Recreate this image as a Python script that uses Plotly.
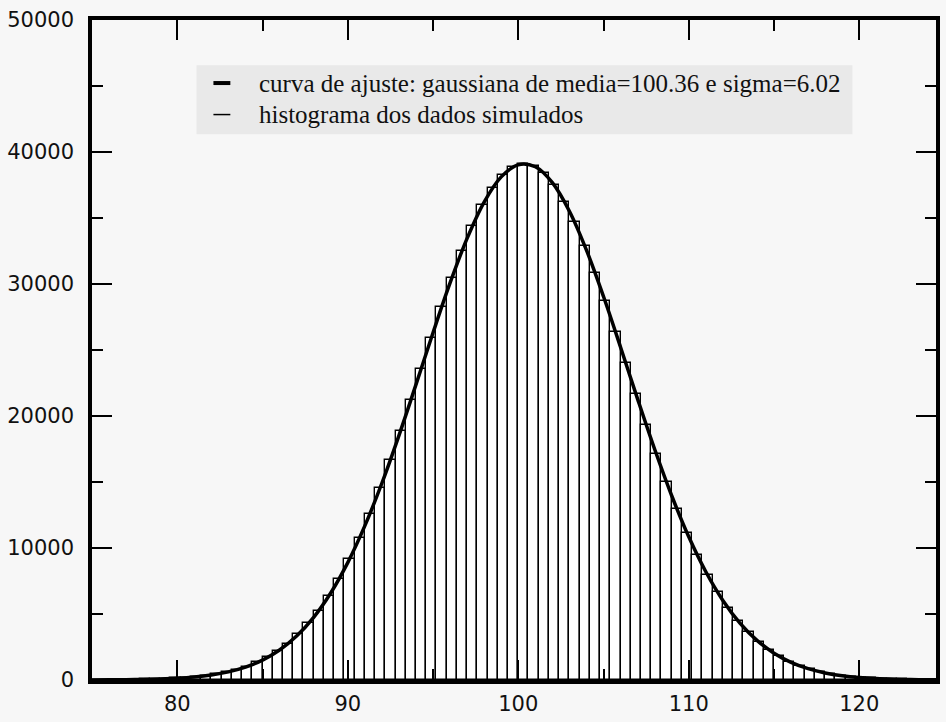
import plotly.graph_objects as go

# ---- data ----
bin_width = 0.6
first_bin_center = 75.1
hist_counts = [
    6, 9, 13, 20, 30, 40, 60, 90, 120, 170, 230, 320,
    430, 580, 780, 1020, 1330, 1710, 2180, 2760, 3460, 4290,
    5260, 6390, 7680, 9150, 10790, 12600, 14570, 16670, 18900, 21200,
    23560, 25920, 28230, 30440, 32500, 34360, 35970, 37280, 38250, 38870,
    39100, 38940, 38400, 37500, 36250, 34700, 32890, 30870, 28680, 26380,
    24030, 21670, 19350, 17110, 14980, 12980, 11140, 9470, 7970, 6630,
    5470, 4470, 3610, 2890, 2290, 1800, 1400, 1080, 820, 620,
    460, 340, 250, 180, 130, 90, 65, 45, 31, 21,
    14, 9,
]
bin_centers = [round(first_bin_center + bin_width * i, 2) for i in range(len(hist_counts))]

curve_x = list(range(75, 126))
curve_y = [
    5, 11, 21, 39, 72, 128, 222, 374, 612, 974,
    1509, 2273, 3331, 4750, 6592, 8895, 11675, 14905, 18518, 22377,
    26303, 30080, 33458, 36210, 38115, 39030, 38880, 37677, 35515, 32566,
    29051, 25212, 21282, 17478, 13959, 10846, 8199, 6029, 4313, 3003,
    2033, 1337, 856, 534, 324, 191, 109, 61, 33, 18, 9,
]

legend_labels = [
    "curva de ajuste: gaussiana de media=100.36 e sigma=6.02",
    "histograma dos dados simulados",
]
x_ticks = [80, 90, 100, 110, 120]
y_ticks = [0, 10000, 20000, 30000, 40000, 50000]
y_tick_text = ["0", "10000", "20000", "30000", "40000", "50000"]

fig = go.Figure()
fig.add_trace(go.Bar(
    x=bin_centers, y=hist_counts, width=bin_width,
    marker=dict(color="white", line=dict(color="black", width=1.4)),
    showlegend=False,
))
fig.add_trace(go.Scatter(
    x=curve_x, y=curve_y, mode="lines",
    line=dict(color="black", width=3.5, shape="spline"),
    showlegend=False,
))

# manual legend
L, R, T, B = 92, 940, 20, 690
def px(xp):
    return (xp - L) / (R - L)
def py(yp):
    return (B - yp) / (B - T)

fig.add_shape(type="rect", xref="paper", yref="paper",
              x0=px(197), x1=px(856), y0=py(136), y1=py(66),
              fillcolor="#e9e9e9", line=dict(width=0), layer="above")
fig.add_shape(type="line", xref="paper", yref="paper",
              x0=px(214), x1=px(231), y0=py(84), y1=py(84),
              line=dict(color="black", width=4), layer="above")
fig.add_shape(type="line", xref="paper", yref="paper",
              x0=px(214), x1=px(231), y0=py(116), y1=py(116),
              line=dict(color="black", width=1.5), layer="above")
for label, yy in zip(legend_labels, [84, 116]):
    fig.add_annotation(text=label, xref="paper", yref="paper",
                       x=px(258), y=py(yy), xanchor="left", yanchor="middle",
                       showarrow=False,
                       font=dict(family="Liberation Serif", size=25, color="#111111"))

axis_common = dict(
    showline=True, linecolor="black", linewidth=3.5, mirror="ticks",
    ticks="inside", ticklen=20, tickwidth=2, tickcolor="black",
    showgrid=False, zeroline=False,
    tickfont=dict(family="DejaVu Sans", size=21, color="#111111"),
)
fig.update_xaxes(range=[75, 124.5], tickvals=x_ticks,
                 ticktext=[str(v) for v in x_ticks],
                 minor=dict(ticks="inside", ticklen=11, tickwidth=2, tickcolor="black", dtick=5, tick0=75),
                 ticklabelstandoff=2, **axis_common)
fig.update_yaxes(range=[0, 50000], tickvals=y_ticks, ticktext=y_tick_text,
                 minor=dict(ticks="inside", ticklen=11, tickwidth=2, tickcolor="black", dtick=5000, tick0=0),
                 ticklabelstandoff=10, **axis_common)

fig.update_layout(
    width=946, height=722,
    margin=dict(l=L, r=946 - R, t=T, b=722 - B),
    paper_bgcolor="#f7f7f7", plot_bgcolor="#f7f7f7",
    bargap=0, barmode="overlay",
)
fig.write_html("out.html")
